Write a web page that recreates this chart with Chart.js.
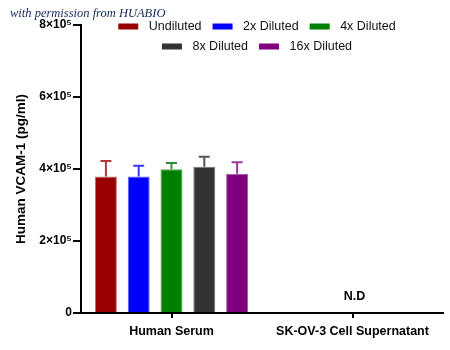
<!DOCTYPE html>
<html><head><meta charset="utf-8">
<script src="https://cdn.jsdelivr.net/npm/chart.js@4"></script>
<style>
html,body{margin:0;padding:0;background:#fff;}
#wrap{position:relative;width:450px;height:350px;}
#wm{position:absolute;left:10px;top:6px;font:italic 12.5px 'Liberation Serif','DejaVu Serif',serif;color:#14285a;white-space:nowrap;}
</style>
</head><body>
<div id="wrap"><canvas id="c" width="450" height="350"></canvas><div id="wm">with permission from HUABIO</div></div>
<script>
const categories = ['Human Serum', 'SK-OV-3 Cell Supernatant'];
const seriesNames = ['Undiluted', '2x Diluted', '4x Diluted', '8x Diluted', '16x Diluted'];
const undiluted = [379000, null];
const diluted2x = [379000, null];
const diluted4x = [399000, null];
const diluted8x = [406000, null];
const diluted16x = [387000, null];
const errUndiluted = [43000, null];
const err2x = [30000, null];
const err4x = [18000, null];
const err8x = [28000, null];
const err16x = [32000, null];
const yTicks = [0, 200000, 400000, 600000, 800000];
const yTickLabels = ['0', '2×10⁵', '4×10⁵', '6×10⁵', '8×10⁵'];
const notDetectedLabel = 'N.D';

const fills = ['#990000', '#0000ff', '#008000', '#333333', '#800080'];
const borders = ['#c06a6a', '#5b5bff', '#4f9f4f', '#707070', '#a85aa8'];
const errColors = ['#b03a3a', '#3a3aff', '#2f8f2f', '#555555', '#983a98'];
const values = [undiluted, diluted2x, diluted4x, diluted8x, diluted16x];
const errors = [errUndiluted, err2x, err4x, err8x, err16x];

const datasets = seriesNames.map((n, i) => ({
  label: n, data: values[i], backgroundColor: fills[i], borderColor: borders[i],
  borderWidth: 1, borderSkipped: 'bottom', errors: errors[i], errColor: errColors[i],
  categoryPercentage: 0.906, barPercentage: 0.67
}));

const extras = {
  id: 'extras',
  afterDatasetsDraw(chart) {
    const ctx = chart.ctx, y = chart.scales.y;
    chart.data.datasets.forEach((ds, i) => {
      const meta = chart.getDatasetMeta(i);
      meta.data.forEach((bar, j) => {
        const v = ds.data[j], e = ds.errors[j];
        if (v == null || e == null) return;
        const top = y.getPixelForValue(v + e);
        ctx.save();
        ctx.strokeStyle = ds.errColor; ctx.lineWidth = 2;
        ctx.beginPath();
        ctx.moveTo(bar.x, bar.y); ctx.lineTo(bar.x, top);
        ctx.moveTo(bar.x - 5.5, top); ctx.lineTo(bar.x + 5.5, top);
        ctx.stroke();
        ctx.restore();
      });
    });
  },
  afterDraw(chart) {
    const ctx = chart.ctx, x = chart.scales.x, y = chart.scales.y;
    ctx.save();
    ctx.fillStyle = '#000';
    ctx.font = 'bold 12.5px "Liberation Sans", Arial, sans-serif';
    ctx.textAlign = 'center'; ctx.textBaseline = 'middle';
    ctx.fillText(notDetectedLabel, x.getPixelForValue(1) + 2, y.getPixelForValue(0) - 16);
    // legend
    ctx.font = '12.5px "Liberation Sans", Arial, sans-serif';
    ctx.textAlign = 'left';
    const rows = [[0, 1, 2], [3, 4]];
    const cx = (chart.chartArea.left + chart.chartArea.right) / 2 - 5;
    const rowY = [26.5, 46.5];
    const boxW = 20, boxH = 6, gap = 10.5, itemGap = 11;
    rows.forEach((r, ri) => {
      const widths = r.map(k => boxW + gap + ctx.measureText(seriesNames[k]).width);
      const total = widths.reduce((a, b) => a + b, 0) + itemGap * (r.length - 1);
      let px = cx - total / 2;
      r.forEach((k, idx) => {
        ctx.fillStyle = fills[k];
        ctx.fillRect(px, rowY[ri] - boxH / 2, boxW, boxH);
        ctx.fillStyle = '#111';
        ctx.fillText(seriesNames[k], px + boxW + gap, rowY[ri] + 0.5);
        px += widths[idx] + itemGap;
      });
    });
    ctx.restore();
  }
};

new Chart(document.getElementById('c'), {
  type: 'bar',
  data: { labels: categories, datasets },
  options: {
    responsive: false, animation: false, devicePixelRatio: 1,
    layout: { padding: { top: 25, right: 7, left: 0, bottom: 0 } },
    plugins: { legend: { display: false }, tooltip: { enabled: false } },
    scales: {
      x: {
        grid: { display: true, drawOnChartArea: false, offset: false, tickLength: 5, lineWidth: 2, color: '#000' },
        border: { display: true, color: '#000', width: 2 },
        ticks: { color: '#000', padding: 6, font: { family: '"Liberation Sans", Arial, sans-serif', size: 12.5, weight: 'bold' } },
        afterFit(s) { s.height = 37; }
      },
      y: {
        min: 0, max: 800000,
        afterBuildTicks(s) { s.ticks = yTicks.map(v => ({ value: v })); },
        grid: { display: true, drawOnChartArea: false, tickLength: 8, lineWidth: 2, color: '#000' },
        border: { display: true, color: '#000', width: 2 },
        ticks: {
          color: '#000', padding: 1,
          font: { family: '"Liberation Sans", Arial, sans-serif', size: 12, weight: 'bold' },
          callback(v) { const i = yTicks.indexOf(v); return i >= 0 ? yTickLabels[i] : ''; }
        },
        title: {
          display: true, text: 'Human VCAM-1 (pg/ml)', color: '#000',
          font: { family: '"Liberation Sans", Arial, sans-serif', size: 13.5, weight: 'bold' },
          padding: { top: 13, bottom: 0 }
        },
        afterFit(s) { s.width = 81; }
      }
    }
  },
  plugins: [extras]
});
</script>
</body></html>
